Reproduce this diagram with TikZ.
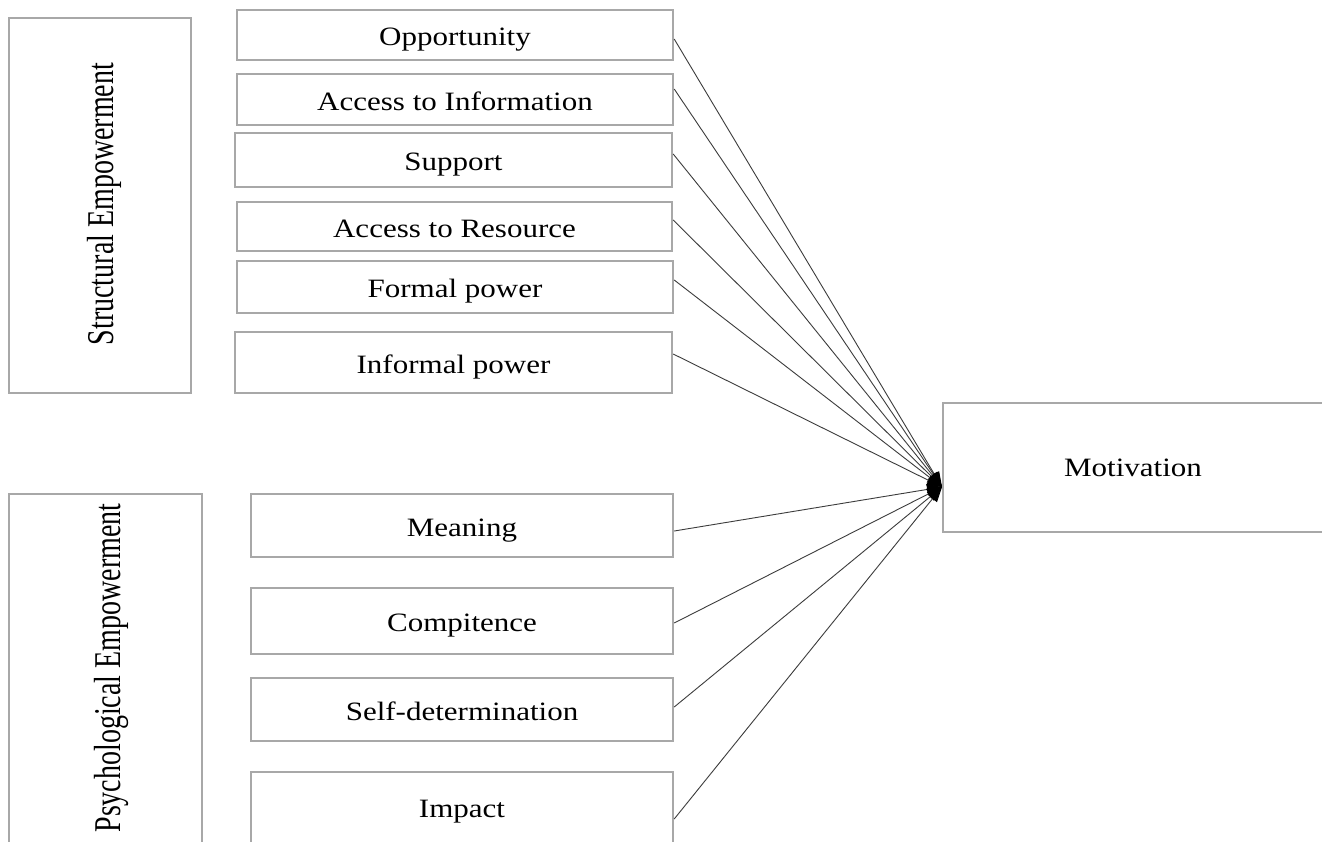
\documentclass[tikz,border=0pt]{standalone}
\usepackage{graphicx}
\usepackage{fontspec}
\setmainfont{Liberation Serif}
\usetikzlibrary{arrows.meta}
\definecolor{boxgray}{HTML}{A8A8A8}
\definecolor{linegray}{HTML}{3C3C3C}
\newcommand\widetxt[1]{\scalebox{1.17}[1]{#1}}
\newcommand\rottxt[1]{\rotatebox{90}{\scalebox{1}[1.35]{#1}}}
\begin{document}
\begin{tikzpicture}[x=1pt,y=-1pt,
  box/.style={draw=boxgray,line width=2.4pt,fill=white,inner sep=0pt,
    text height=21pt,text depth=0pt,
    font=\fontsize{26.5}{30}\selectfont},
  itembox/.style={box,minimum height=#1},
  lbl/.style={inner sep=0pt,text height=21pt,text depth=0pt,
    font=\fontsize{26.5}{30}\selectfont},
  rotlbl/.style={inner sep=0pt,font=\fontsize{28}{32}\selectfont},
  conn/.style={draw=linegray,line width=0.9pt,
    -{Triangle[length=15pt,width=11pt,fill=black,color=black]}}]
\useasboundingbox (0,0) rectangle (1322,841);
\clip (0,0) rectangle (1322,841);
\fill[white] (0,0) rectangle (1322,841);

% group boxes
\node[box,minimum width=182pt,minimum height=375pt] (se) at (100,205.5) {};
\node[rotlbl] (selbl) at (104,204) {\rottxt{Structural Empowerment}};
\node[box,minimum width=193pt,minimum height=420pt] (pe) at (105.5,704) {};
\node[rotlbl] (pelbl) at (111,668) {\rottxt{Psychological Empowerment}};

% structural items
\node[itembox=50pt,minimum width=436pt] (opp) at (455,35) {\widetxt{Opportunity}};
\node[itembox=51pt,minimum width=436pt] (ai) at (455,99.5) {\widetxt{Access to Information}};
\node[itembox=54pt,minimum width=437pt] (sup) at (453.5,160) {\widetxt{Support}};
\node[itembox=49pt,minimum width=435pt] (ar) at (454.5,226.5) {\widetxt{Access to Resource}};
\node[itembox=52pt,minimum width=436pt] (fp) at (455,287) {\widetxt{Formal power}};
\node[itembox=61pt,minimum width=437pt] (ip) at (453.5,362.5) {\widetxt{Informal power}};

% psychological items
\node[itembox=63pt,minimum width=422pt] (mea) at (462,525.5) {\widetxt{Meaning}};
\node[itembox=66pt,minimum width=422pt] (com) at (462,621) {\widetxt{Compitence}};
\node[itembox=63pt,minimum width=422pt] (sd) at (462,709.5) {\widetxt{Self-determination}};
\node[itembox=94pt,minimum width=422pt] (imp) at (462,819) {};
\node[lbl] (implbl) at (462,807) {\widetxt{Impact}};

% outcome
\node[itembox=129pt,minimum width=414pt] (mot) at (1150,467.5) {};
\node[lbl] (motlbl) at (1133,466) {\widetxt{Motivation}};

\coordinate (tip) at (942,487);

\draw[conn] ([yshift=-4pt]opp.east) -- (tip);
\draw[conn] ([yshift=10.5pt]ai.east) -- (tip);
\draw[conn] ([yshift=6pt]sup.east) -- (tip);
\draw[conn] ([yshift=6.5pt]ar.east) -- (tip);
\draw[conn] ([yshift=7pt]fp.east) -- (tip);
\draw[conn] ([yshift=8.5pt]ip.east) -- (tip);
\draw[conn] ([yshift=-5.5pt]mea.east) -- (tip);
\draw[conn] ([yshift=-2pt]com.east) -- (tip);
\draw[conn] ([yshift=2.5pt]sd.east) -- (tip);
\draw[conn] (imp.east) -- (tip);
\end{tikzpicture}
\end{document}
